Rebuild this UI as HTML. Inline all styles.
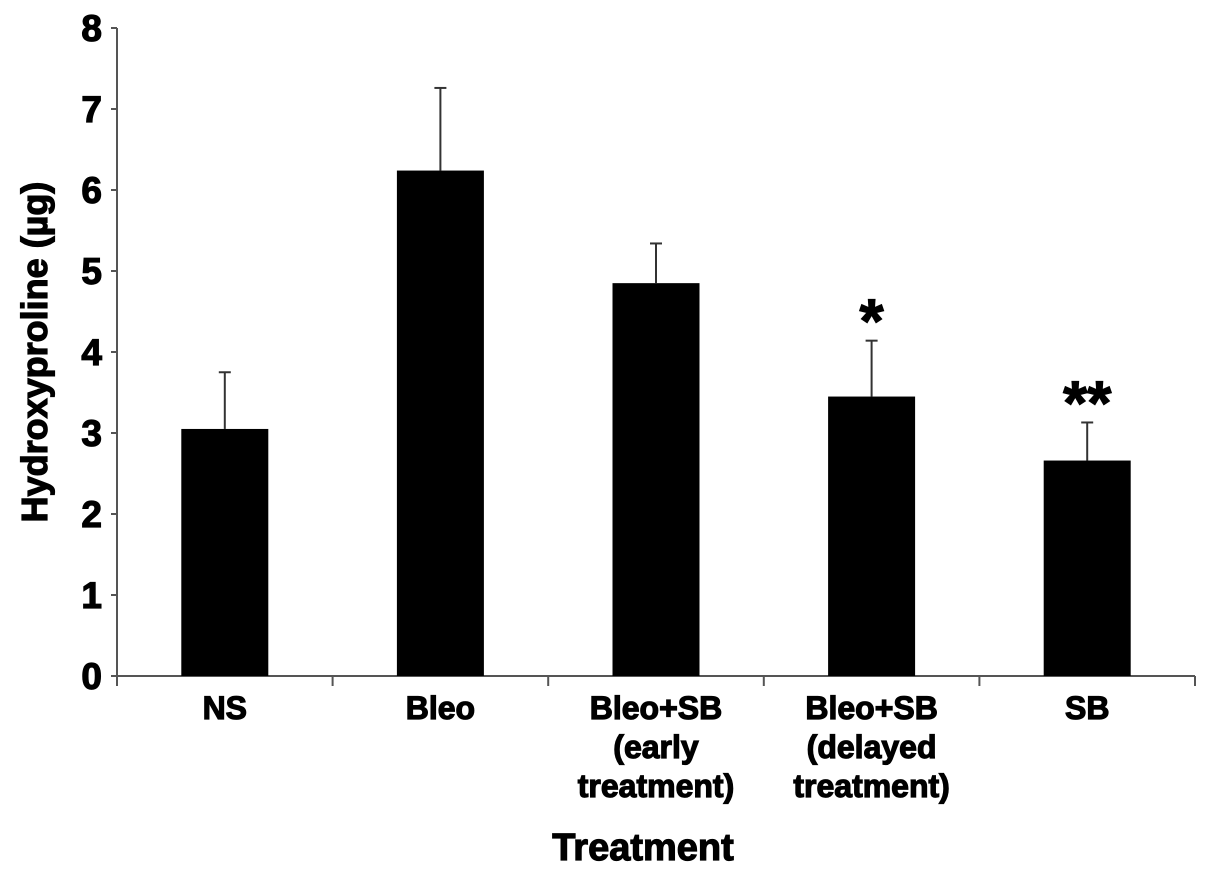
<!DOCTYPE html>
<html><head><meta charset="utf-8"><style>
html,body{margin:0;padding:0;background:#fff;}
svg{display:block;font-family:"Liberation Sans",Arial,sans-serif;font-weight:bold;}
text{stroke:#000;stroke-width:1.2px;}
</style></head><body>
<svg id="chart" width="1205" height="874" viewBox="0 0 1205 874"></svg>
<script>
const categories = [["NS"],["Bleo"],["Bleo+SB","(early","treatment)"],["Bleo+SB","(delayed","treatment)"],["SB"]];
const values = [3.05, 6.24, 4.85, 3.45, 2.66];
const errors = [0.70, 1.02, 0.49, 0.69, 0.47];
const marks = ["", "", "", "*", "**"];
const yTicks = [0,1,2,3,4,5,6,7,8];

const svg = document.getElementById('chart');
const NS = 'http://www.w3.org/2000/svg';
const X0 = 117, X1 = 1195, Y0 = 676, Y8 = 28;
const band = (X1 - X0) / categories.length;
const barW = 87;
function y(v){ return Y0 - v * (Y0 - Y8) / 8; }
function xc(i){ return X0 + band * (i + 0.5); }
function el(tag, attrs, parent){ const e = document.createElementNS(NS, tag); for (const k in attrs) e.setAttribute(k, attrs[k]); (parent||svg).appendChild(e); return e; }

const yAxis = el('line',{x1:X0,y1:Y8,x2:X0,y2:Y0,stroke:'#555','stroke-width':2});


const xAxis = el('line',{x1:X0-6,y1:Y0,x2:X1,y2:Y0,stroke:'#555','stroke-width':2});



yTicks.forEach(t => {
  const tk = el('line',{x1:X0-6,y1:y(t),x2:X0,y2:y(t),stroke:'#555','stroke-width':2});
  
  
  const lb = el('text',{x:102,y:y(t)+13,'text-anchor':'end','font-size':37,fill:'#000'});
  lb.textContent = t;
  
  
});
for (let i = 0; i <= categories.length; i++) {
  const tk = el('line',{x1:X0+band*i,y1:Y0,x2:X0+band*i,y2:Y0+10,stroke:'#555','stroke-width':2});
  
  
}

categories.forEach((c, i) => {
  const cx = xc(i);
  const bar = el('rect',{x:cx-barW/2,y:y(values[i]),width:barW,height:Y0-y(values[i]),fill:'#000'});
  
  
  const ev = values[i] + errors[i];
  const eb = el('line',{x1:cx,y1:y(values[i]),x2:cx,y2:y(ev),stroke:'#333','stroke-width':2});
  
  
  const cap = el('line',{x1:cx-6,y1:y(ev),x2:cx+6,y2:y(ev),stroke:'#333','stroke-width':2});
  
  
  if (marks[i]) {
    const m = el('text',{x:cx,y:y(ev)+2,'text-anchor':'middle','font-size':62,fill:'#000'});
    m.textContent = marks[i];
    
    
  }
  c.forEach((line, j) => {
    const t = el('text',{x:cx,y:719+j*39,'text-anchor':'middle','font-size':32,fill:'#000'});
    t.textContent = line;
    
    
  });
});

const xt = el('text',{x:643,y:860,'text-anchor':'middle','font-size':38,fill:'#000'});
xt.textContent = 'Treatment';


const yt = el('text',{x:0,y:0,'text-anchor':'middle','font-size':36,fill:'#000',transform:'translate(47,352) rotate(-90)'});
yt.textContent = 'Hydroxyproline (µg)';


</script>
</body></html>
